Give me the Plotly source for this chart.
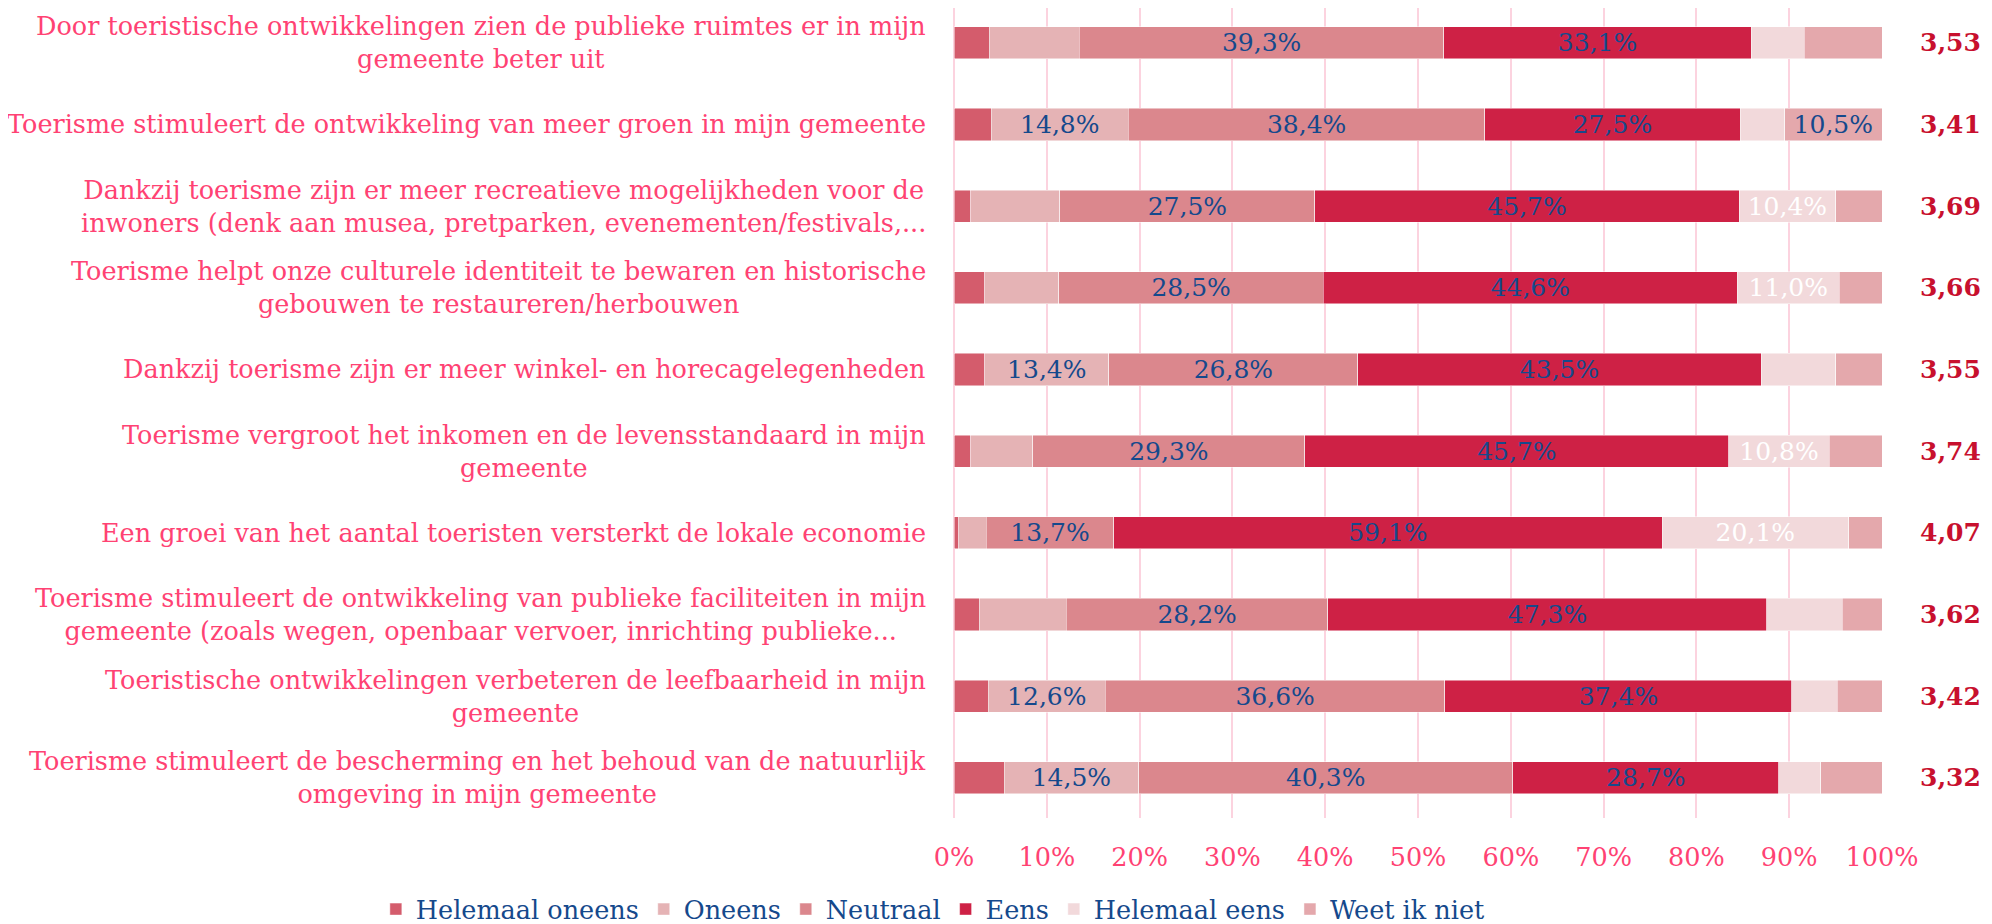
import plotly.graph_objects as go

categories = [
    "Door toeristische ontwikkelingen zien de publieke ruimtes er in mijn<br>gemeente beter uit",
    "Toerisme stimuleert de ontwikkeling van meer groen in mijn gemeente",
    "Dankzij toerisme zijn er meer recreatieve mogelijkheden voor de<br>inwoners (denk aan musea, pretparken, evenementen/festivals,...",
    "Toerisme helpt onze culturele identiteit te bewaren en historische<br>gebouwen te restaureren/herbouwen",
    "Dankzij toerisme zijn er meer winkel- en horecagelegenheden",
    "Toerisme vergroot het inkomen en de levensstandaard in mijn<br>gemeente",
    "Een groei van het aantal toeristen versterkt de lokale economie",
    "Toerisme stimuleert de ontwikkeling van publieke faciliteiten in mijn<br>gemeente (zoals wegen, openbaar vervoer, inrichting publieke...",
    "Toeristische ontwikkelingen verbeteren de leefbaarheid in mijn<br>gemeente",
    "Toerisme stimuleert de bescherming en het behoud van de natuurlijk<br>omgeving in mijn gemeente",
]

helemaal_oneens = [3.8, 4.0, 1.8, 3.3, 3.3, 1.8, 0.5, 2.7, 3.7, 5.4]
oneens = [9.7, 14.8, 9.6, 8.0, 13.4, 6.7, 3.0, 9.4, 12.6, 14.5]
neutraal = [39.3, 38.4, 27.5, 28.5, 26.8, 29.3, 13.7, 28.2, 36.6, 40.3]
eens = [33.1, 27.5, 45.7, 44.6, 43.5, 45.7, 59.1, 47.3, 37.4, 28.7]
helemaal_eens = [5.7, 4.8, 10.4, 11.0, 8.0, 10.8, 20.1, 8.1, 4.9, 4.5]
weet_ik_niet = [8.4, 10.5, 5.0, 4.6, 5.0, 5.7, 3.6, 4.3, 4.8, 6.6]

means = [3.53, 3.41, 3.69, 3.66, 3.55, 3.74, 4.07, 3.62, 3.42, 3.32]

series_names = ["Helemaal oneens", "Oneens", "Neutraal", "Eens", "Helemaal eens", "Weet ik niet"]
series_values = [helemaal_oneens, oneens, neutraal, eens, helemaal_eens, weet_ik_niet]
series_colors = ["#D45C6C", "#E5B3B5", "#DB878D", "#CE2145", "#F2D9DB", "#E4A8AC"]
label_colors = ["#15498C", "#15498C", "#15498C", "#15498C", "#FFFFFF", "#15498C"]

FONT = "Georgia, 'DejaVu Serif', 'Liberation Serif', serif"
PINK = "#FF4273"
BLUE = "#15498C"
CRIMSON = "#C8102E"

W, H = 1992, 924
ML, MR, MT, MB = 946, 118, 0, 114

fig = go.Figure()
for name, vals, col, lcol in zip(series_names, series_values, series_colors, label_colors):
    txt = [(f"{v:.1f}%".replace(".", ",") if v >= 10 else "") for v in vals]
    fig.add_trace(go.Bar(
        y=categories, x=vals, name=name, orientation="h",
        marker=dict(color=col, line=dict(color="rgba(255,255,255,0.6)", width=0.8)),
        text=txt, textposition="inside", insidetextanchor="middle",
        constraintext="none",
        textfont=dict(family=FONT, size=25, color=lcol),
        cliponaxis=False, hoverinfo="x+name",
    ))

# category labels as centred multi-line blocks left of the axis
for cat in categories:
    fig.add_annotation(
        x=0, xref="paper", y=cat, yref="y", text=cat, showarrow=False,
        xanchor="right", yanchor="middle", align="center", xshift=-26,
        font=dict(family=FONT, size=25.5, color=PINK),
    )

# mean scores on the right
for cat, m in zip(categories, means):
    fig.add_annotation(
        x=1.043, xref="paper", y=cat, yref="y", text=f"<b>{m:.2f}</b>".replace(".", ","),
        showarrow=False, xanchor="left", yanchor="middle", xshift=-4,
        font=dict(family=FONT, size=25, color=CRIMSON),
    )

fig.update_layout(
    barmode="stack",
    bargap=0.605,
    width=W, height=H,
    margin=dict(l=ML, r=MR, t=MT, b=MB, autoexpand=False),
    plot_bgcolor="white", paper_bgcolor="white",
    font=dict(family=FONT),
    showlegend=True,
    legend=dict(
        orientation="h", xref="paper", yref="paper",
        x=-0.623, y=-0.113, xanchor="left", yanchor="middle",
        font=dict(family=FONT, size=25.5, color=BLUE),
        traceorder="normal",
    ),
)
fig.update_xaxes(
    range=[0, 100], dtick=10, ticksuffix="%",
    showgrid=True, gridcolor="#FCD3DF", gridwidth=1.5,
    zeroline=True, zerolinecolor="#FCD3DF", zerolinewidth=1.5,
    showline=False,
    ticks="outside", ticklen=16, tickcolor="rgba(0,0,0,0)",
    tickfont=dict(family=FONT, size=25.5, color=PINK),
)
fig.update_yaxes(
    type="category",
    categoryorder="array", categoryarray=categories,
    range=[9.492, -0.426],
    showticklabels=False, showgrid=False, zeroline=False,
)

fig.write_html("out.html")
